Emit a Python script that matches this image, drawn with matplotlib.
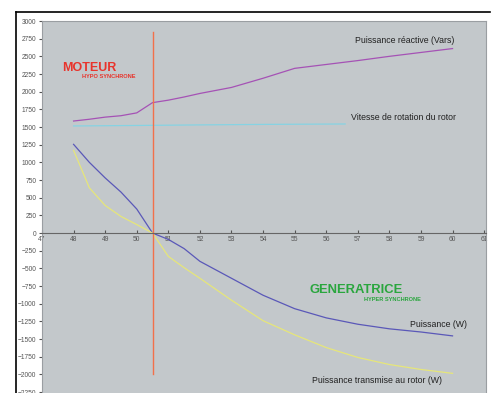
import matplotlib.pyplot as plt
from matplotlib.lines import Line2D

# vitesse (Hz equiv.) et mesures
x_pts = [48, 48.5, 49, 49.5, 50, 50.5, 51, 51.5, 52, 53, 54, 55, 56, 57, 58, 59, 60]
puissance = [1255, 1000, 780, 580, 340, 0, -90, -220, -400, -640, -880, -1070,
             -1200, -1290, -1355, -1400, -1455]
puissance_rotor = [1170, 640, 390, 235, 120, 0, -330, -490, -640, -950, -1240,
                   -1440, -1620, -1760, -1860, -1930, -1985]
reactive = [1585, 1610, 1640, 1660, 1700, 1845, 1880, 1925, 1975, 2060, 2190,
            2330, 2385, 2440, 2500, 2555, 2610]
x_vitesse = [48, 50, 52, 54, 56.6]
vitesse = [1515, 1522, 1530, 1537, 1543]
x_sync = 50.5

x_ticks = list(range(47, 62))
y_ticks = list(range(-2250, 3001, 250))

plt.rcParams['font.family'] = ['Liberation Sans', 'DejaVu Sans']

fig = plt.figure(figsize=(4.91, 3.93), dpi=100)
fig.patch.set_facecolor('white')
ax = fig.add_axes([42 / 491, 0, 444 / 491, 372 / 393])
ax.set_facecolor('#c3c8cb')

ax.plot(x_pts, reactive, color='#a552b5', lw=0.9)
ax.plot(x_vitesse, vitesse, color='#86d3e3', lw=0.9)
ax.plot(x_pts, puissance, color='#5a58b8', lw=0.9)
ax.plot(x_pts, puissance_rotor, color='#e6e67a', lw=0.9)
ax.plot([x_sync, x_sync], [-2000, 2850], color='#f2704a', lw=1.0)

ax.set_xlim(47, 61.06)
ax.set_ylim(-2263, 3000)
ax.set_xticks(x_ticks)
ax.set_yticks(y_ticks)
ax.tick_params(axis='x', labelsize=4.8, colors='#555555', direction='in',
               length=2, pad=2)
ax.tick_params(axis='y', labelsize=4.8, colors='#555555', length=2, pad=2)

ax.spines['bottom'].set_position(('data', 0))
ax.spines['bottom'].set_color('#666666')
for s in ['left', 'top', 'right']:
    ax.spines[s].set_color('#9a9ea2')

ax.text(60.05, 2660, 'Puissance réactive (Vars)', fontsize=6.3, ha='right',
        va='bottom', color='#222222')
ax.text(56.8, 1640, 'Vitesse de rotation du rotor', fontsize=6.3,
        ha='left', va='center', color='#222222')
ax.text(60.45, -1287, 'Puissance (W)', fontsize=6.3, ha='right', va='center',
        color='#222222')
ax.text(55.55, -2080, 'Puissance transmise au rotor (W)', fontsize=6.3,
        ha='left', va='center', color='#222222')

ax.text(47.65, 2330, 'MOTEUR', fontsize=9, fontweight='bold',
        color='#e8342c', va='center')
ax.text(48.27, 2208, 'HYPO SYNCHRONE', fontsize=4.1, fontweight='bold',
        color='#e8342c', va='center')
ax.text(55.48, -806, 'GENERATRICE', fontsize=9.4, fontweight='bold',
        color='#2aa63e', va='center')
ax.text(57.2, -934, 'HYPER SYNCHRONE', fontsize=4.1, fontweight='bold',
        color='#2aa63e', va='center')

# cadre noir autour de la figure
fig.add_artist(Line2D([16 / 491, 490 / 491], [1 - 12 / 393, 1 - 12 / 393],
                      color='black', lw=1.2))
fig.add_artist(Line2D([16 / 491, 16 / 491], [0, 1 - 12 / 393],
                      color='black', lw=1.2))

fig.savefig('out.png', dpi=100)
